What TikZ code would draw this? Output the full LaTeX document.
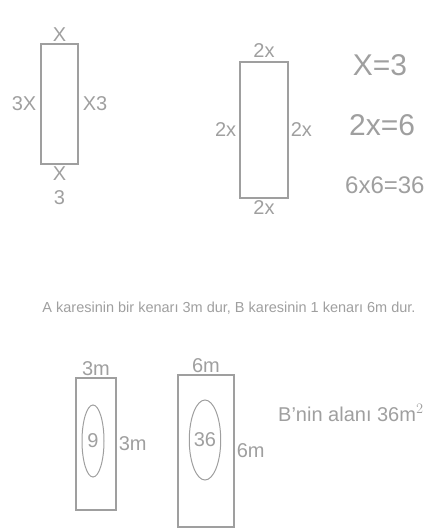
\documentclass[tikz,border=0pt]{standalone}
\usepackage{fontspec}
\setmainfont{Liberation Sans}
\usetikzlibrary{positioning,shapes.geometric}
\tikzset{side/.style={draw=gray!75, line width=1.1pt},
  hand/.style={text=gray!75, font=\fontsize{20}{22}\selectfont, inner sep=1pt, align=center},
  ring/.style={draw=gray!75, line width=1pt, ellipse, inner sep=0pt, text=gray!75, font=\fontsize{20}{22}\selectfont}}

\begin{document}
\begin{tikzpicture}[x=1pt, y=-1pt]
  \useasboundingbox (0,0) rectangle (433,531);
  % first rectangle
  \node[side, minimum width=37pt, minimum height=120pt] (ra) at (59.5,104) {};
  \node[hand, above=1pt of ra.north] (ratop) {X};
  \node[hand, left=3pt of ra.west] (raleft) {3X};
  \node[hand, right=3pt of ra.east] (raright) {X3};
  \node[hand, below=1pt of ra.south, font=\fontsize{20}{24}\selectfont] (rabot) {X\\3};
  % second rectangle
  \node[side, minimum width=48pt, minimum height=136pt] (rb) at (264,130) {};
  \node[hand, above=3pt of rb.north] (rbtop) {2x};
  \node[hand, left=2pt of rb.west] (rbleft) {2x};
  \node[hand, right=1pt of rb.east] (rbright) {2x};
  \node[hand, below=1pt of rb.south] (rbbot) {2x};
  % working
  \node[hand, font=\fontsize{30}{32}\selectfont] (xeq) at (380,65) {X=3};
  \node[hand, font=\fontsize{30}{32}\selectfont, anchor=west] (twox) at (348,125) {2x=6};
  \node[hand, font=\fontsize{24}{26}\selectfont, anchor=west] (prod) at (344,185) {6x6=36};
  % sentence
  \node[hand, font=\fontsize{14.5}{16}\selectfont] (txt) at (229,308) {A karesinin bir kenarı 3m dur, B karesinin 1 kenarı 6m dur.};
  % square A
  \node[side, minimum width=40pt, minimum height=132pt] (sa) at (96,444) {};
  \node[ring, minimum width=22pt, minimum height=72pt] (ca) at (93,441) {9};
  \node[hand, above=1pt of sa.north] (satop) {3m};
  \node[hand, right=1pt of sa.east] (saright) {3m};
  % square B
  \node[side, minimum width=56pt, minimum height=152pt] (sb) at (206,451) {};
  \node[ring, minimum width=28pt, minimum height=80pt] (cb) at (205,440) {36};
  \node[hand, above=1pt of sb.north] (sbtop) {6m};
  \node[hand, right=1pt of sb.east] (sbright) {6m};
  \node[hand, anchor=west] (area) at (277,413) {B'nin alanı 36m$^2$};
\end{tikzpicture}
\end{document}
